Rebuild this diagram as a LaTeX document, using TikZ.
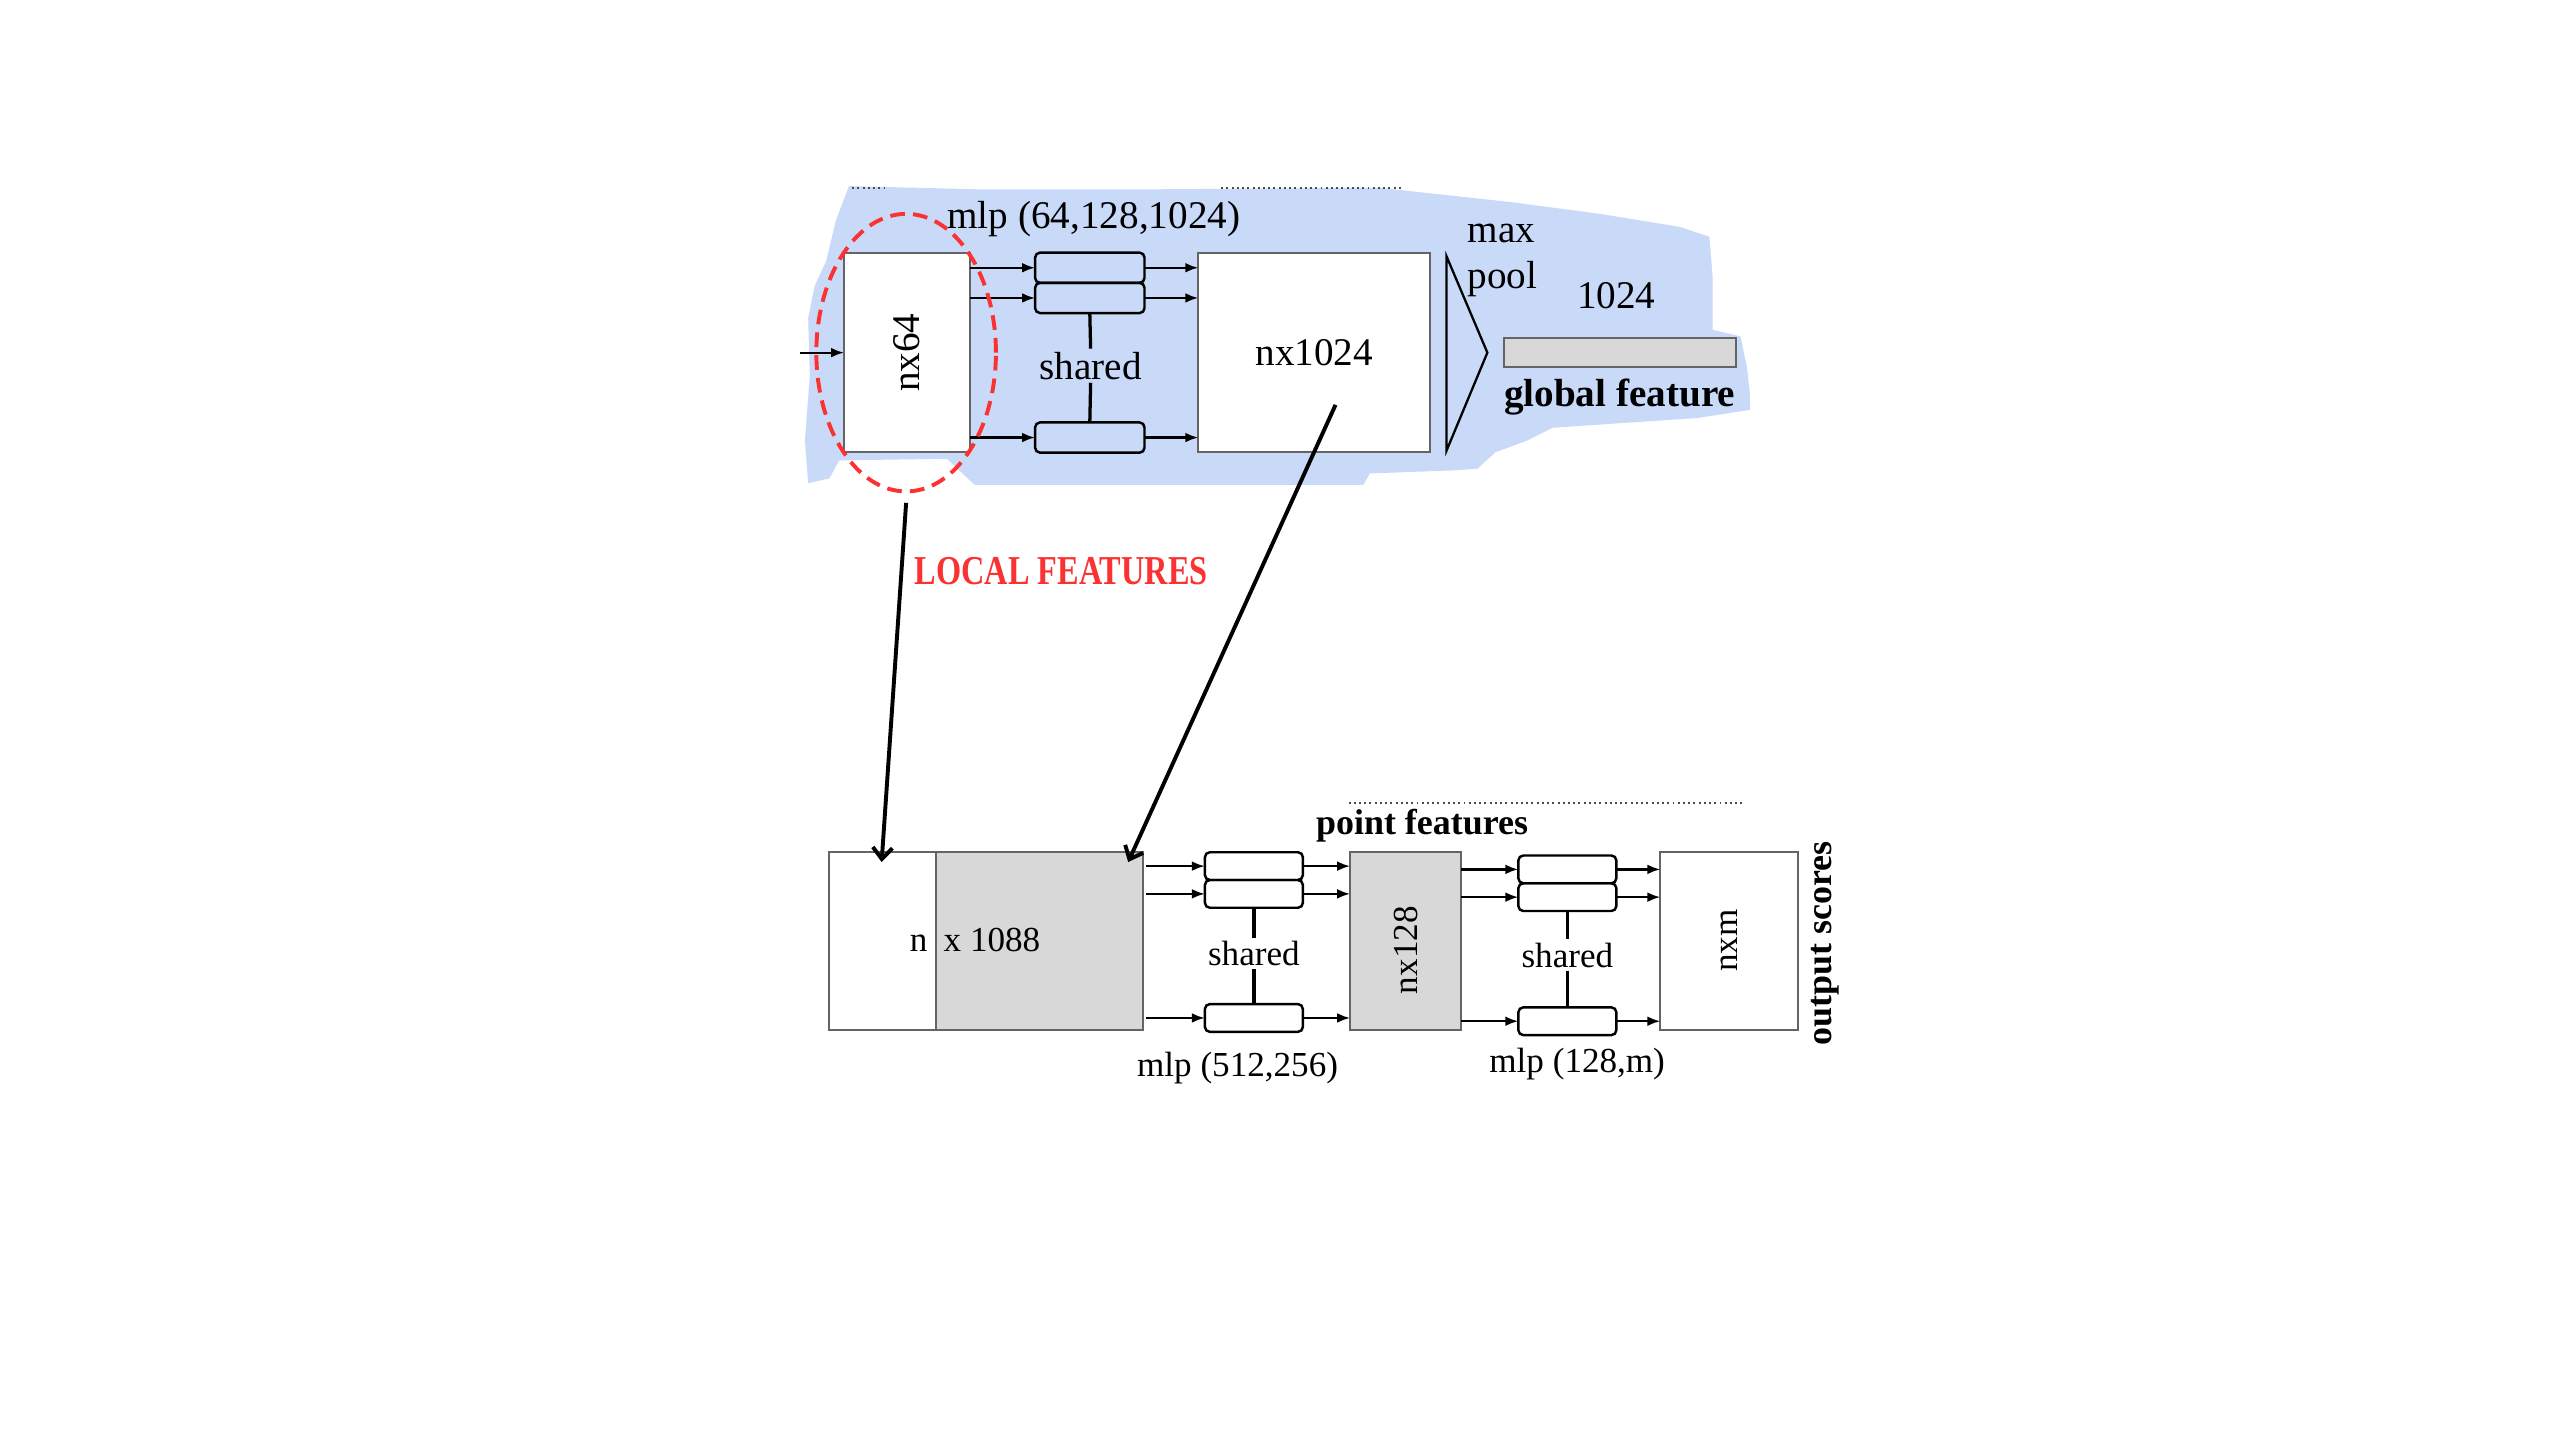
\documentclass[tikz,border=0pt]{standalone}
\usepackage{fontspec}
\usepackage{graphicx}
\setmainfont{Liberation Serif}
\usetikzlibrary{arrows.meta,shapes.geometric,calc}
\definecolor{blobblue}{RGB}{201,218,248}
\definecolor{lfred}{RGB}{250,50,50}
\definecolor{boxgray}{RGB}{216,216,216}
\definecolor{edgegray}{RGB}{100,100,100}
\begin{document}
\begin{tikzpicture}[x=1pt,y=-1pt,
  every node/.style={inner sep=0pt, outer sep=0pt},
  feat/.style={draw=edgegray, line width=1.2pt, fill=white},
  mlpbox/.style={draw=black, line width=1.5pt, rounded corners=3pt},
  arr/.style={-{Latex[length=8pt,width=6pt]}, line width=1.4pt},
  bigarr/.style={-{Straight Barb[length=7pt,width=12pt]}, line width=2.4pt},
  link/.style={line width=2pt},
  lbl/.style={font=\fontsize{24}{28}\selectfont},
  lbls/.style={font=\fontsize{21.5}{25}\selectfont},
  blbl/.style={font=\fontsize{22}{26}\selectfont\bfseries},
  dots/.style={dotted, black!70, line width=1.2pt}
]
\fill[white] (0,0) rectangle (1568,882);
\useasboundingbox (0,0) rectangle (1568,882);

% blue background blob
\fill[blobblue] (520,114) -- (600,116) -- (700,116) -- (845,115) -- (927,124)
  -- (980,131) -- (1029,139) -- (1047,145) -- (1049,170) -- (1049,202)
  -- (1066,206) -- (1070,225) -- (1072,243) -- (1072,251) -- (1040,256)
  -- (951,262) -- (935,270) -- (916,277) -- (905,287) -- (893,288)
  -- (839,290) -- (835,297) -- (597,297) -- (580,281) -- (514,282)
  -- (508,293) -- (495,296)
  -- (493,270) -- (496,230) -- (495,195) -- (499,175)
  -- (506,160) -- (512,135) -- cycle;
\draw[dots] (522,115) -- (542,115);
\draw[dots] (748,115) -- (858,115);

% top row
\node[feat, minimum width=77pt, minimum height=122pt] (nx64) at (555.5,216) {};
\node[lbl, rotate=90] (nx64t) at (555.5,216) {nx64};
\coordinate (in) at (490,216);
\draw[arr] (in) -- (nx64.west);

\node[mlpbox, minimum width=67pt, minimum height=18.5pt] (t1) at (667.5,164) {};
\node[mlpbox, minimum width=67pt, minimum height=18.5pt] (t2) at (667.5,182.5) {};
\node[mlpbox, minimum width=67pt, minimum height=18.5pt] (t3) at (667.5,268) {};
\node[lbl, inner sep=2pt] (sh1) at (668,224) {shared};
\draw[link] (t2.south) -- (sh1.north);
\draw[link] (sh1.south) -- (t3.north);
\node[lbl] (mlp1) at (670,134) {mlp (64,128,1024)};

\node[feat, lbl, minimum width=142pt, minimum height=122pt] (nx1024) at (805,216) {nx1024};

\foreach \b in {t1,t2,t3}{
  \draw[arr] (nx64.east |- \b) -- (\b.west);
  \draw[arr] (\b.east) -- (\b.east -| nx1024.west);
}

% max pool
\draw[line width=1.4pt] (886,157) -- (911,216) -- (886,276) -- cycle;
\node[lbl, anchor=west] (maxt) at (899,143) {max};
\node[lbl, anchor=west] (poolt) at (899,171) {pool};
\node[lbl] (dim) at (990,181) {1024};
\node[draw=edgegray, fill=boxgray, line width=1.2pt, minimum width=142pt, minimum height=18pt] (gbar) at (992,216) {};
\node[font=\fontsize{24}{28}\selectfont\bfseries] (gf) at (992,243) {global feature};

% local features highlight
\node[ellipse, draw=lfred, dash pattern=on 9pt off 5pt, line width=2.4pt,
      minimum width=110pt, minimum height=170pt] (loc) at (555,216) {};
\node[text=lfred, font=\fontsize{19.8}{24}\selectfont\bfseries] (lft) at (650,350)
  {\scalebox{1}[1.27]{LOCAL FEATURES}};

% bottom row
\node[feat, minimum width=65pt, minimum height=109pt] (catl) at (540.5,576.5) {};
\node[feat, fill=boxgray, minimum width=127pt, minimum height=109pt, anchor=west] (catr) at (catl.east) {};
\node[lbls, anchor=base east] (nlab) at (568,583) {n};
\node[lbls, anchor=base west] (xlab) at (578,583) {x 1088};

\node[mlpbox, minimum width=60pt, minimum height=17pt] (b1) at (768,530.5) {};
\node[mlpbox, minimum width=60pt, minimum height=17pt] (b2) at (768,547.5) {};
\node[mlpbox, minimum width=60pt, minimum height=17pt] (b3) at (768,623.5) {};
\node[lbls, inner sep=2pt] (sh2) at (768,584) {shared};
\draw[link] (b2.south) -- (sh2.north);
\draw[link] (sh2.south) -- (b3.north);

\node[feat, fill=boxgray, minimum width=68pt, minimum height=109pt] (nx128) at (861,576.5) {};
\node[lbls, rotate=90] (nx128t) at (861,582) {nx128};

\node[mlpbox, minimum width=60pt, minimum height=17pt] (c1) at (960,532.5) {};
\node[mlpbox, minimum width=60pt, minimum height=17pt] (c2) at (960,549.5) {};
\node[mlpbox, minimum width=60pt, minimum height=17pt] (c3) at (960,625.5) {};
\node[lbls, inner sep=2pt] (sh3) at (960,585) {shared};
\draw[link] (c2.south) -- (sh3.north);
\draw[link] (sh3.south) -- (c3.north);

\node[feat, minimum width=84pt, minimum height=109pt] (nxm) at (1059,576.5) {};
\node[lbls, rotate=90] (nxmt) at (1059,576) {nxm};

\foreach \b in {b1,b2,b3}{
  \draw[arr] ([xshift=2pt]catr.east |- \b) -- (\b.west);
  \draw[arr] (\b.east) -- (\b.east -| nx128.west);
}
\foreach \b in {c1,c2,c3}{
  \draw[arr] (nx128.east |- \b) -- (\b.west);
  \draw[arr] (\b.east) -- (\b.east -| nxm.west);
}

\node[blbl, rotate=90] (outs) at (1118,578) {output scores};
\node[blbl] (pf) at (871,506) {point features};
\draw[dots] (826,492) -- (1068,492);
\node[lbls] (mlp2) at (758,654) {mlp (512,256)};
\node[lbls] (mlp3) at (966,652) {mlp (128,m)};

% connections from top to bottom
\coordinate (a1) at (540,528);
\coordinate (g1) at (818,248);
\coordinate (a2) at (691,528);
\draw[bigarr] ([yshift=-7pt]loc.south) -- (a1);
\draw[bigarr] (g1) -- (a2);
\end{tikzpicture}
\end{document}
